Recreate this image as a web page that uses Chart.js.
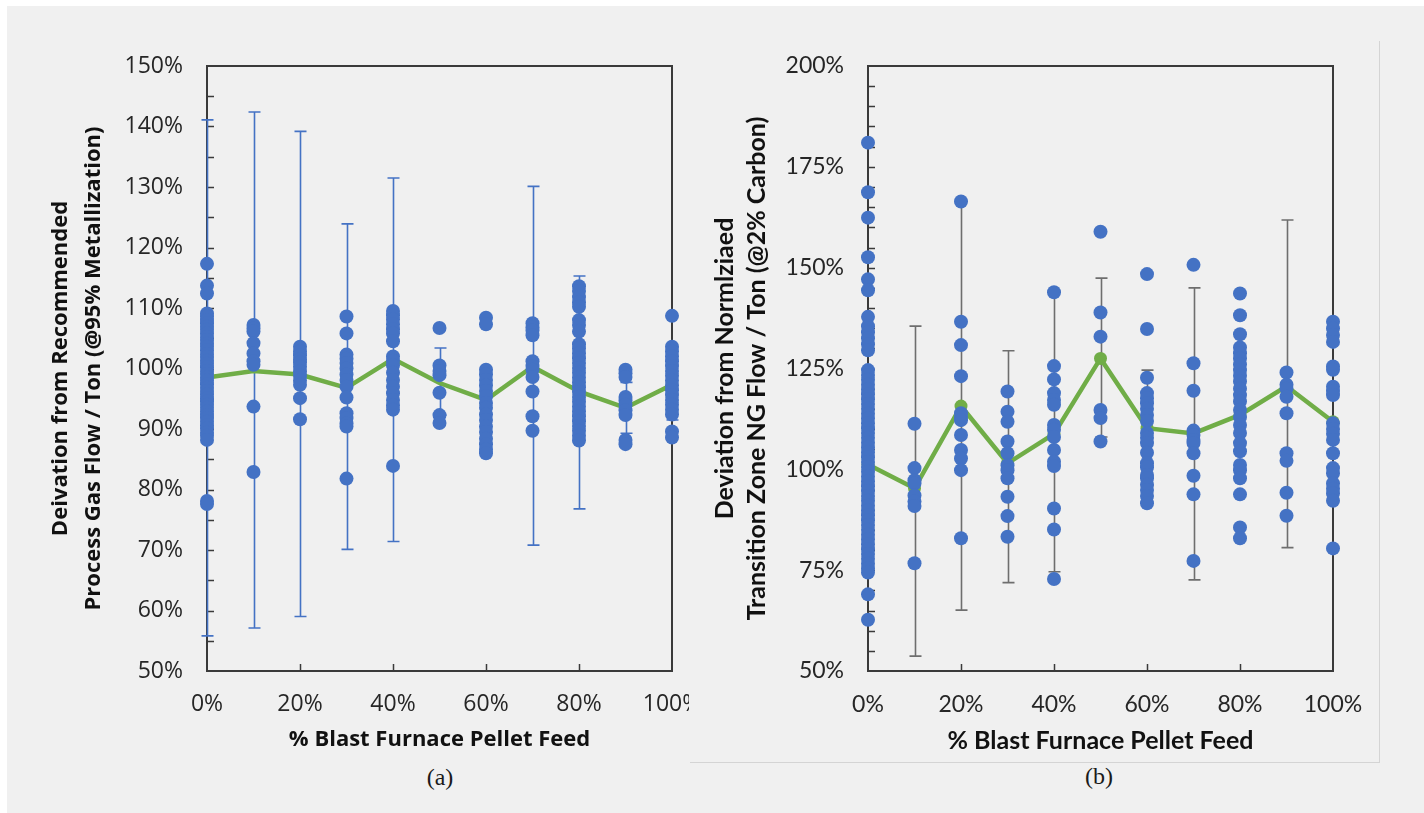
<!DOCTYPE html>
<html>
<head>
<meta charset="utf-8">
<script src="https://cdn.jsdelivr.net/npm/chart.js@4.4.1/dist/chart.umd.min.js"></script>
<style>
html,body{margin:0;padding:0;background:#ffffff;width:1424px;height:813px;overflow:hidden;}
#bg{position:absolute;left:7px;top:6px;width:1417px;height:807px;background:#f0f0f0;}
#ca{position:absolute;left:7px;top:6px;}
#panelB{position:absolute;left:690px;top:41px;width:689px;height:721px;border-right:1px solid #d4d4d4;border-bottom:1px solid #d4d4d4;}
#cb{position:absolute;left:0;top:0;}
.cap{position:absolute;font-family:"Liberation Serif","DejaVu Serif",serif;font-size:24px;color:#1a1a1a;transform:translate(-50%,-50%);white-space:nowrap;}
</style>
</head>
<body>
<div id="bg"></div>
<canvas id="ca" width="682" height="750"></canvas>
<div id="panelB"><canvas id="cb" width="689" height="721"></canvas></div>
<div class="cap" style="left:440px;top:777px;">(a)</div>
<div class="cap" style="left:1099px;top:776px;">(b)</div>
<script>
// ---------- shared ----------
const categories = [0, 10, 20, 30, 40, 50, 60, 70, 80, 90, 100];
const xTickValues = [0, 20, 40, 60, 80, 100];
const xTitle = '% Blast Furnace Pellet Feed';

// ---------- chart (a) ----------
const aYTicks = [50, 60, 70, 80, 90, 100, 110, 120, 130, 140, 150];
const aYTitle = ['Deivation from Recommended', 'Process Gas Flow / Ton (@95% Metallization)'];
const aMean = [98.5, 99.6, 99.0, 96.8, 101.6, 97.6, 94.8, 100.3, 96.2, 93.5, 97.3];
const aErrLow = [55.8, 57.1, 59.0, 70.1, 71.4, 92.3, 89.5, 70.8, 76.8, 89.3, 91.5];
const aErrHigh = [141.1, 142.4, 139.2, 123.9, 131.5, 103.4, 99.8, 130.1, 115.3, 97.7, 103.5];
const aPts0 = [117.3, 113.7, 112.4, 109.1, 108.6, 108.0, 107.5, 106.9, 106.4, 105.8, 105.2, 104.7, 104.1, 103.6, 103.0, 102.4, 101.9, 101.3, 100.8, 100.2, 99.6, 99.1, 98.5, 98.0, 97.4, 96.8, 96.3, 95.7, 95.1, 94.6, 94.0, 93.5, 92.9, 92.3, 91.8, 91.2, 90.6, 90.1, 89.4, 88.9, 88.2, 78.1, 77.6];
const aPts10 = [107.2, 106.6, 106.1, 104.2, 102.5, 101.2, 100.6, 93.7, 82.9];
const aPts20 = [103.6, 102.8, 102.2, 101.5, 101.0, 100.3, 99.5, 98.8, 98.0, 97.3, 95.1, 91.6];
const aPts30 = [108.6, 105.8, 102.3, 101.6, 100.9, 100.0, 99.0, 98.1, 97.0, 95.2, 92.6, 91.8, 90.9, 90.4, 81.8];
const aPts40 = [109.5, 108.8, 108.1, 107.3, 106.5, 105.8, 104.5, 102.0, 101.3, 100.5, 99.3, 98.1, 97.0, 95.9, 94.8, 93.9, 93.2, 83.9];
const aPts50 = [106.7, 100.5, 99.6, 98.9, 96.0, 92.3, 91.0];
const aPts60 = [108.4, 107.3, 99.8, 99.0, 98.1, 97.2, 96.3, 95.4, 94.3, 93.5, 92.4, 91.5, 90.4, 89.5, 88.4, 87.5, 86.6, 86.0];
const aPts70 = [107.5, 106.8, 106.3, 105.5, 101.2, 100.4, 99.8, 98.6, 96.2, 92.1, 89.7];
const aPts80 = [113.6, 112.8, 111.8, 110.9, 110.2, 108.0, 107.2, 106.1, 104.0, 103.3, 102.5, 101.7, 100.9, 100.1, 99.3, 98.5, 97.7, 96.9, 96.1, 95.3, 94.5, 93.7, 92.9, 92.1, 91.3, 90.5, 89.7, 88.9, 88.1];
const aPts90 = [99.8, 99.2, 98.6, 95.3, 94.7, 94.0, 93.1, 92.3, 88.2, 87.5];
const aPts100 = [108.7, 103.6, 102.8, 102.0, 101.2, 100.4, 99.6, 98.8, 98.0, 97.2, 96.4, 95.6, 94.8, 94.0, 93.2, 92.4, 89.6, 88.6];
const aPoints = [aPts0, aPts10, aPts20, aPts30, aPts40, aPts50, aPts60, aPts70, aPts80, aPts90, aPts100];

// ---------- chart (b) ----------
const bYTicks = [50, 75, 100, 125, 150, 175, 200];
const bYTitle = ['Deviation from Normlziaed', 'Transition Zone NG Flow / Ton (@2% Carbon)'];
const bMean = [101.2, 95.3, 115.7, 101.5, 108.8, 127.5, 110.2, 108.9, 113.5, 120.6, 111.8];
const bErrLow = [null, 53.7, 65.1, 71.9, 74.6, 108.0, 96.0, 72.6, null, 80.6, null];
const bErrHigh = [null, 135.5, 166.4, 129.4, 143.9, 147.4, 124.6, 145.0, null, 161.8, null];
const bPts0 = [181.0, 168.7, 162.4, 152.6, 147.1, 144.4, 137.8, 135.5, 134.0, 132.5, 131.0, 129.5, 124.6, 123.4, 122.2, 121.0, 119.8, 118.6, 117.4, 116.2, 115.0, 113.8, 112.6, 111.4, 110.2, 109.0, 107.8, 106.6, 105.4, 104.2, 103.0, 101.8, 100.6, 99.4, 98.2, 97.0, 95.8, 94.6, 93.4, 92.2, 91.0, 89.8, 88.6, 87.4, 86.2, 85.0, 83.8, 82.6, 81.4, 80.2, 79.0, 77.8, 76.6, 75.4, 74.4, 69.0, 62.7];
const bPts10 = [111.3, 100.3, 97.3, 96.5, 93.5, 92.0, 90.9, 76.7];
const bPts20 = [166.4, 136.6, 130.8, 123.1, 113.9, 113.0, 112.2, 108.5, 104.8, 102.7, 99.8, 82.9];
const bPts30 = [119.3, 114.3, 111.8, 106.9, 104.0, 101.0, 99.8, 97.8, 93.2, 88.4, 83.3];
const bPts40 = [143.9, 125.6, 122.3, 118.9, 117.2, 116.0, 111.0, 109.8, 108.0, 104.8, 101.9, 100.8, 90.3, 85.1, 72.8];
const bPts50 = [158.9, 138.9, 132.9, 114.7, 112.7, 106.9];
const bPts60 = [148.4, 134.8, 122.7, 118.9, 117.6, 116.4, 115.0, 113.5, 112.0, 109.0, 107.8, 106.5, 104.1, 101.5, 100.5, 98.6, 97.8, 96.2, 94.9, 93.4, 91.6];
const bPts70 = [150.7, 126.3, 119.5, 109.6, 108.5, 107.3, 106.5, 104.0, 98.4, 93.8, 77.3];
const bPts80 = [143.6, 138.2, 133.5, 130.2, 128.8, 127.5, 126.0, 124.6, 123.2, 121.8, 120.0, 118.4, 116.8, 114.7, 113.0, 111.0, 109.0, 106.5, 104.5, 101.1, 99.8, 97.8, 93.8, 85.6, 82.9];
const bPts90 = [124.0, 121.0, 120.0, 118.0, 113.9, 104.0, 102.1, 94.2, 88.5];
const bPts100 = [136.6, 134.9, 133.3, 131.6, 125.5, 124.7, 120.5, 119.4, 118.4, 111.4, 110.0, 108.8, 107.3, 104.0, 100.3, 99.0, 96.5, 95.2, 94.0, 92.2, 80.4];
const bPoints = [bPts0, bPts10, bPts20, bPts30, bPts40, bPts50, bPts60, bPts70, bPts80, bPts90, bPts100];

// ---------- helpers ----------
function scatterData(cats, lists) {
  const out = [];
  cats.forEach((c, i) => lists[i].forEach(v => out.push({x: c, y: v})));
  return out;
}
function lineData(cats, vals) { return cats.map((c, i) => ({x: c, y: vals[i]})); }

const framePlugin = {
  id: 'frame',
  beforeDatasetsDraw(chart, args, o) {
    const {ctx, chartArea: a} = chart;
    const xs = chart.scales.x, ys = chart.scales.y;
    ctx.save();
    ctx.strokeStyle = '#3a3a3a';
    ctx.lineWidth = 2;
    ctx.strokeRect(a.left, a.top, a.right - a.left, a.bottom - a.top);
    ctx.lineWidth = 1.5;
    ctx.beginPath();
    for (let v = ys.min + o.minorStep; v < ys.max - 0.001; v += o.minorStep) {
      const py = Math.round(ys.getPixelForValue(v)) + 0.5;
      ctx.moveTo(a.left, py); ctx.lineTo(a.left + 7, py);
    }
    xTickValues.forEach(v => {
      if (v <= xs.min || v >= xs.max) return;
      const px = Math.round(xs.getPixelForValue(v)) + 0.5;
      ctx.moveTo(px, a.bottom); ctx.lineTo(px, a.bottom - 7);
    });
    ctx.stroke();
    // error bars
    ctx.strokeStyle = o.errColor;
    ctx.lineWidth = o.errWidth;
    ctx.beginPath();
    categories.forEach((c, i) => {
      if (o.low[i] == null) return;
      const px = Math.round(xs.getPixelForValue(c)) + 0.5;
      const p1 = ys.getPixelForValue(o.low[i]);
      const p2 = ys.getPixelForValue(o.high[i]);
      ctx.moveTo(px, p1); ctx.lineTo(px, p2);
      ctx.moveTo(px - 6, p1); ctx.lineTo(px + 6, p1);
      ctx.moveTo(px - 6, p2); ctx.lineTo(px + 6, p2);
    });
    ctx.stroke();
    ctx.restore();
  }
};

function makeChart(id, cfg) {
  return new Chart(document.getElementById(id), {
    type: 'scatter',
    data: {
      datasets: [
        {
          type: 'scatter',
          data: scatterData(categories, cfg.points),
          backgroundColor: '#4472C4',
          borderWidth: 0,
          pointRadius: 7,
          pointHoverRadius: 7,
          clip: false,
          order: 0
        },
        {
          type: 'line',
          data: lineData(categories, cfg.mean),
          borderColor: '#70AD47',
          backgroundColor: '#70AD47',
          borderWidth: 4.5,
          pointRadius: cfg.meanRadius,
          pointBorderWidth: 0,
          tension: 0,
          fill: false,
          clip: false,
          order: 1
        }
      ]
    },
    options: {
      responsive: false,
      devicePixelRatio: 1,
      animation: false,
      events: [],
      layout: {padding: cfg.padding},
      plugins: {
        legend: {display: false},
        tooltip: {enabled: false},
        frame: {minorStep: cfg.minorStep, low: cfg.errLow, high: cfg.errHigh, errColor: cfg.errColor, errWidth: 1.6}
      },
      scales: {
        x: {
          type: 'linear', min: 0, max: 100,
          grid: {display: false, drawTicks: false},
          border: {display: false},
          afterBuildTicks: s => { s.ticks = xTickValues.map(v => ({value: v})); },
          ticks: {
            padding: cfg.xTickPad, color: '#262626',
            font: {family: cfg.font, size: cfg.tickSize},
            callback: v => v + '%'
          },
          title: {
            display: true, text: xTitle, color: '#111',
            font: {family: cfg.font, size: cfg.titleSize, weight: 'bold', lineHeight: 1.2},
            padding: {top: 0, bottom: cfg.xTitlePad}
          },
          afterFit: s => { s.height = cfg.xHeight; s.paddingLeft = 0; s.paddingRight = 0; }
        },
        y: {
          type: 'linear', min: cfg.yMin, max: cfg.yMax,
          grid: {display: false, drawTicks: false},
          border: {display: false},
          afterBuildTicks: s => { s.ticks = cfg.yTicks.map(v => ({value: v})); },
          ticks: {
            padding: 24, color: '#262626',
            font: {family: cfg.font, size: cfg.tickSize},
            callback: v => v + '%'
          },
          title: {
            display: true, text: cfg.yTitle, color: '#111',
            font: {family: cfg.font, size: cfg.titleSize, weight: 'bold', lineHeight: cfg.yTitleLH},
            padding: {top: cfg.yTitlePad, bottom: 0}
          },
          afterFit: s => { s.width = cfg.yWidth; s.paddingTop = 0; s.paddingBottom = 0; }
        }
      }
    },
    plugins: [framePlugin]
  });
}

makeChart('ca', {
  points: aPoints, mean: aMean, meanRadius: 0,
  errLow: aErrLow, errHigh: aErrHigh, errColor: '#4472C4',
  yMin: 50, yMax: 150, yTicks: aYTicks, minorStep: 5, yTitle: aYTitle,
  font: '"Open Sans", "Noto Sans", sans-serif', tickSize: 23, titleSize: 22,
  padding: {left: 0, right: 17, top: 60, bottom: 0},
  yWidth: 200, xHeight: 85, xTickPad: 20, xTitlePad: 3, yTitlePad: 37, yTitleLH: '33px'
});

makeChart('cb', {
  points: bPoints, mean: bMean, meanRadius: 6.5,
  errLow: bErrLow, errHigh: bErrHigh, errColor: '#6e6e6e',
  yMin: 50, yMax: 200, yTicks: bYTicks, minorStep: 5, yTitle: bYTitle,
  font: 'Lato, "Open Sans", sans-serif', tickSize: 23, titleSize: 25,
  padding: {left: 0, right: 46, top: 25, bottom: 0},
  yWidth: 178, xHeight: 91, xTickPad: 20, xTitlePad: 6, yTitlePad: 19, yTitleLH: '32px'
});
</script>
</body>
</html>
